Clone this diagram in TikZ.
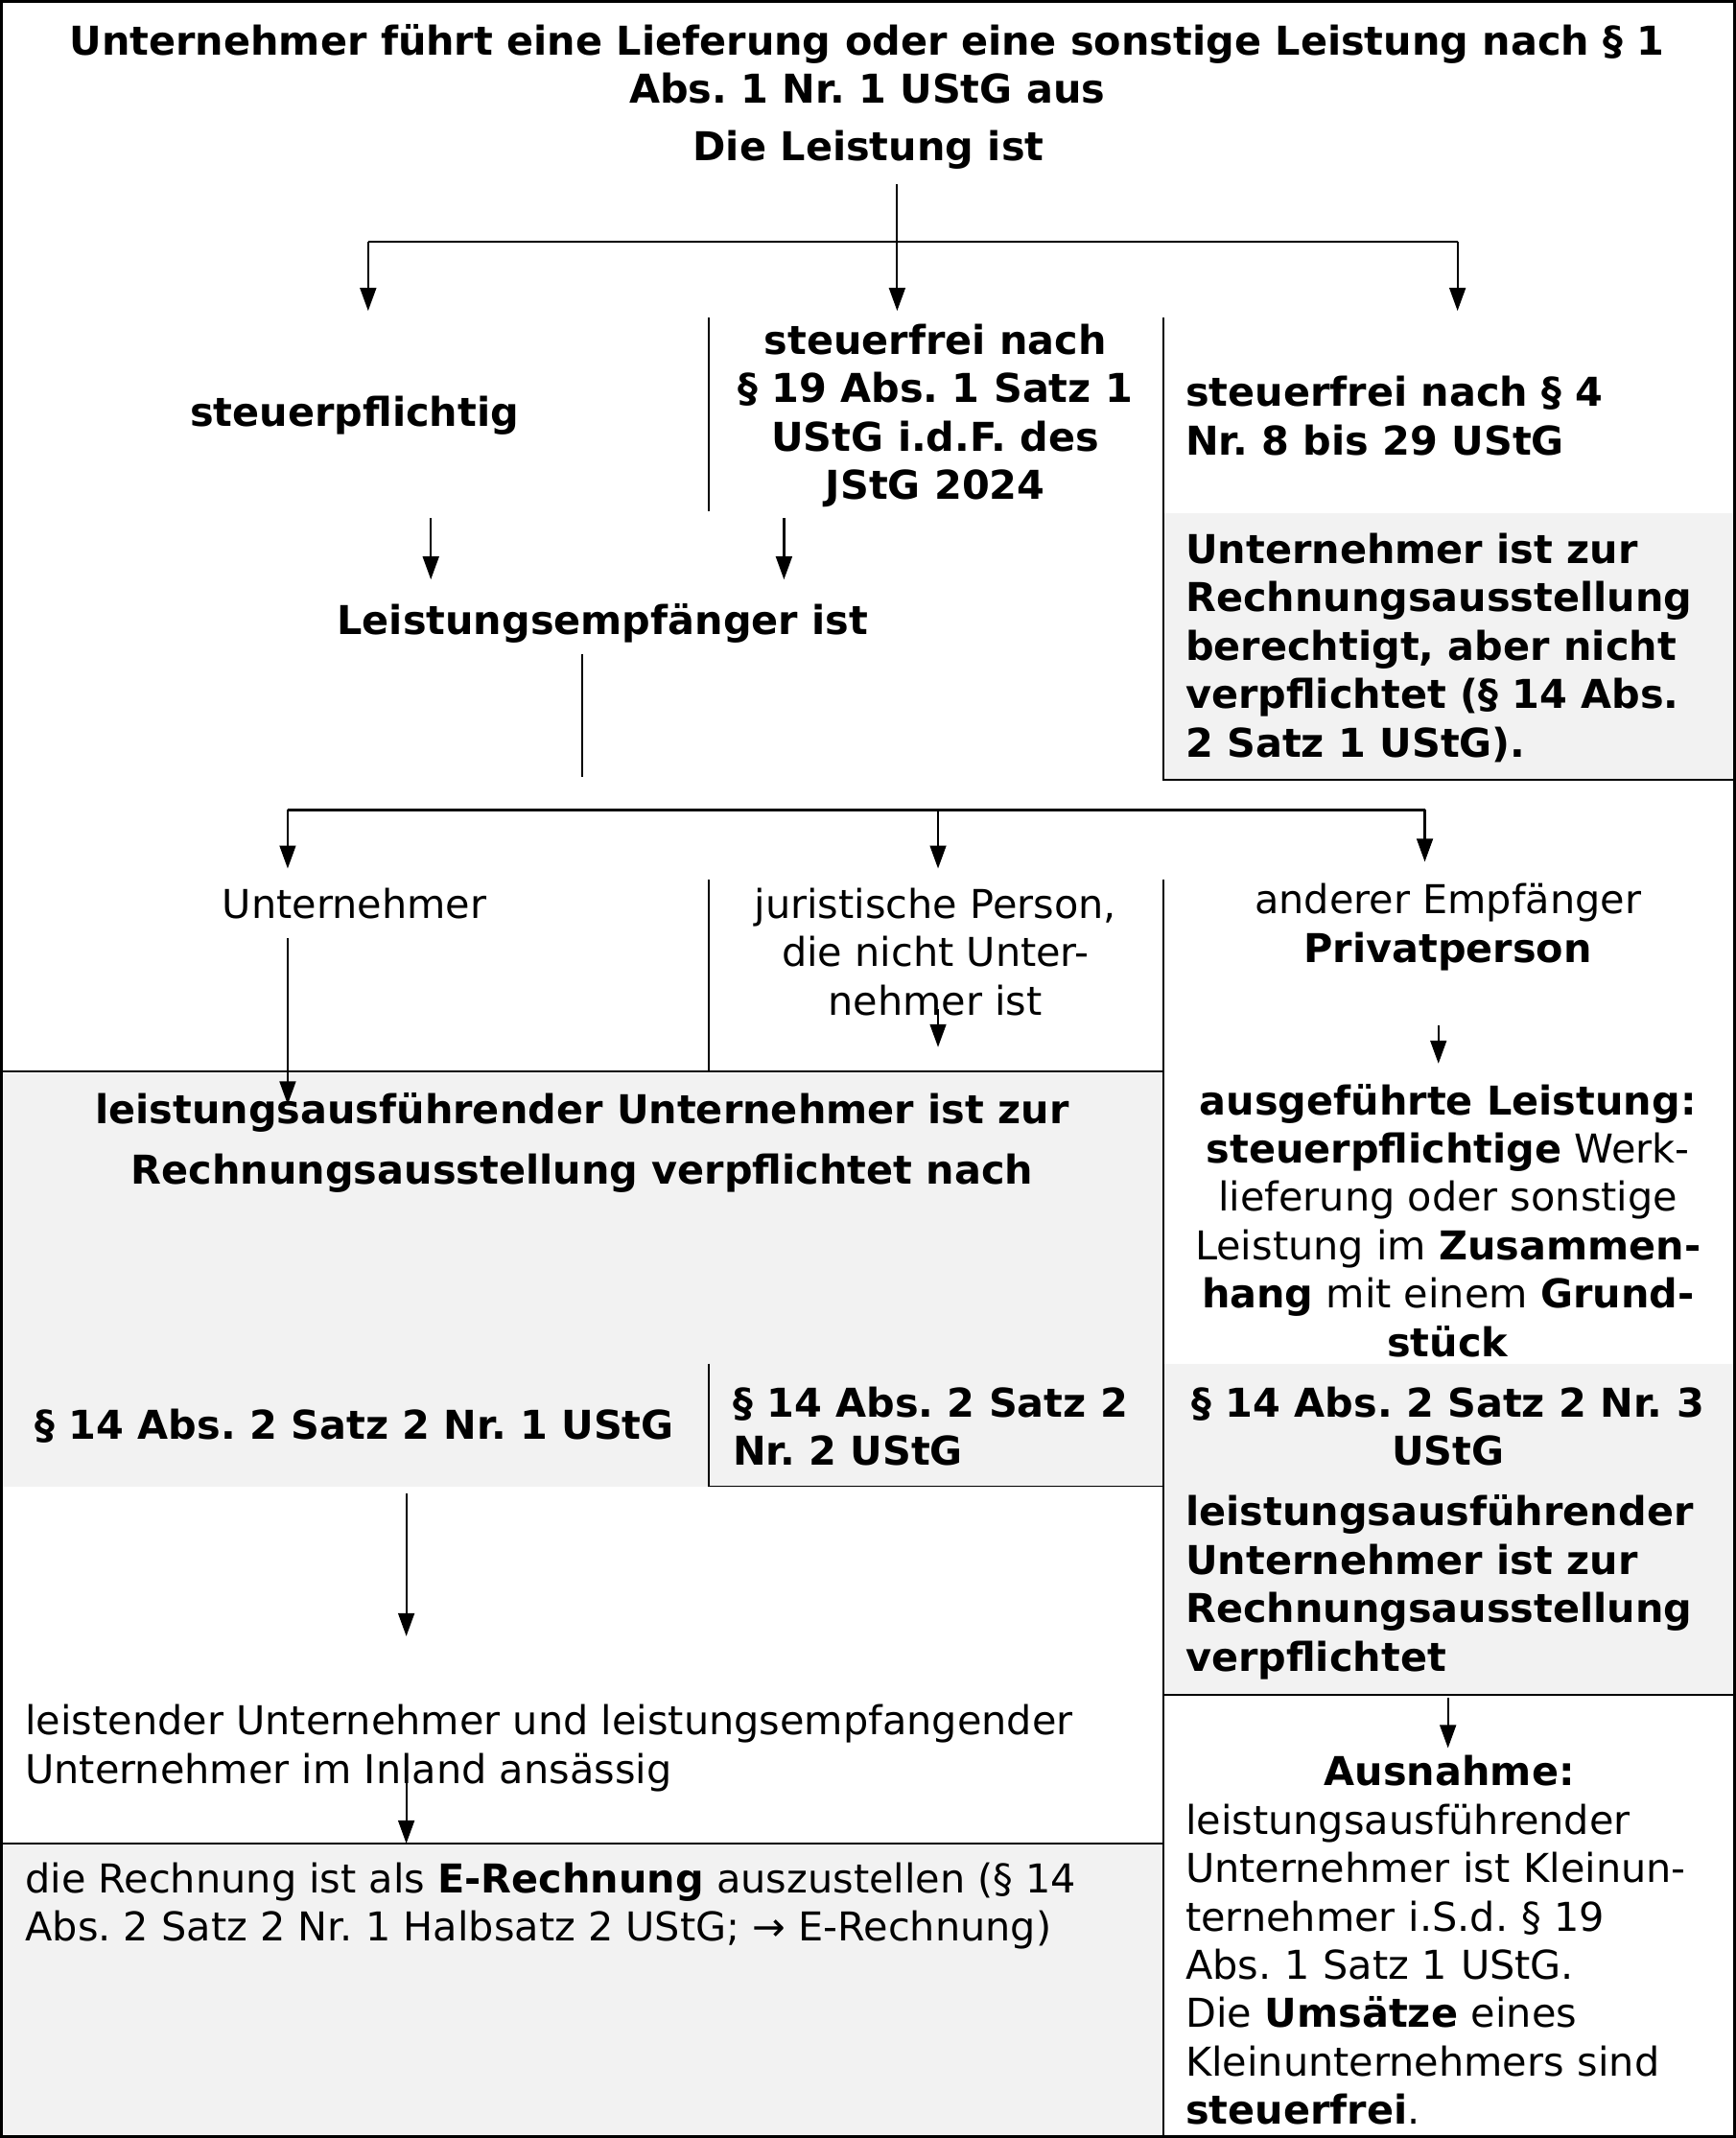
\documentclass[tikz,border=0pt]{standalone}
\usepackage{fontspec}
\setmainfont{DejaVu Sans}
\usetikzlibrary{arrows.meta}
\definecolor{boxgray}{HTML}{F2F2F2}
\frenchspacing
\begin{document}
\frenchspacing
\begin{tikzpicture}[x=0.3553pt,y=-0.3553pt,
  txt/.style={inner sep=0pt, font=\fontsize{10.35}{12.6}\selectfont},
  bt/.style={inner sep=0pt, font=\fontsize{10.35}{12.6}\selectfont\bfseries},
  conn/.style={line width=0.55pt},
  arr/.style={conn,-{Triangle[length=6pt,width=4.2pt]}},
  sep/.style={line width=0.45pt}]
\useasboundingbox (0,0) rectangle (1273,1568);
% gray areas
\fill[boxgray] (853,376) rectangle (1272,572);
\fill[boxgray] (0,787) rectangle (853,1090);
\fill[boxgray] (853,1000) rectangle (1272,1243);
\fill[boxgray] (0,1352) rectangle (853,1567);
% outer border
\draw[line width=0.7pt] (1,1) rectangle (1272,1567);
% separators
\draw[sep] (520,233) -- (520,375);
\draw[sep] (853,233) -- (853,572) -- (1272,572);
\draw[sep] (520,645) -- (520,786);
\draw[sep] (0,786) -- (853,786);
\draw[sep] (853,645) -- (853,1567);
\draw[sep] (520,1000) -- (520,1090) -- (853,1090);
\draw[sep] (853,1243) -- (1272,1243);
\draw[sep] (0,1352) -- (853,1352);
% texts
\node[bt, align=center] (title) at (636,47) {Unternehmer führt eine Lieferung oder eine sonstige Leistung nach § 1\\Abs. 1 Nr. 1 UStG aus};
\node[bt] (leistung) at (637,110) {Die Leistung ist};
\node[bt] (stpfl) at (260,305) {steuerpflichtig};
\node[bt, align=center] (stfrei19) at (686,305) {steuerfrei nach\\§ 19 Abs. 1 Satz 1\\UStG i.d.F. des\\JStG 2024};
\node[bt, align=left, anchor=west] (stfrei4) at (869,305) {steuerfrei nach § 4\\Nr. 8 bis 29 UStG};
\node[bt, align=left, anchor=west] (berecht) at (869,475) {Unternehmer ist zur\\Rechnungsausstellung\\berechtigt, aber nicht\\verpflichtet (§ 14 Abs.\\2 Satz 1 UStG).};
\node[bt] (empf) at (442,457) {Leistungsempfänger ist};
\node[txt] (untern) at (260,663) {Unternehmer};
\node[txt, align=center] (jur) at (686,698) {juristische Person,\\die nicht Unter-\\nehmer ist};
\node[txt, align=center] (anderer) at (1062,680) {anderer Empfänger\\\textbf{Privatperson}};
\node[txt, align=center] (ausgef) at (1062,895) {\textbf{ausgeführte Leistung:}\\\textbf{steuerpflichtige} Werk-\\lieferung oder sonstige\\Leistung im \textbf{Zusammen-}\\\textbf{hang} mit einem \textbf{Grund-}\\\textbf{stück}};
\node[bt, align=center] (verpfnach) at (427,838) {leistungsausführender Unternehmer ist zur\\[3pt]Rechnungsausstellung verpflichtet nach};
\node[bt] (p1) at (260,1046) {§ 14 Abs. 2 Satz 2 Nr. 1 UStG};
\node[bt, align=left, anchor=west] (p2) at (537,1046) {§ 14 Abs. 2 Satz 2\\Nr. 2 UStG};
\node[bt, align=center] (p3) at (1062,1046) {§ 14 Abs. 2 Satz 2 Nr. 3\\UStG};
\node[bt, align=left, anchor=west] (verpfl) at (869,1164) {leistungsausführender\\Unternehmer ist zur\\Rechnungsausstellung\\verpflichtet};
\node[txt, align=left, anchor=west] (inland) at (18,1282) {leistender Unternehmer und leistungsempfangender\\Unternehmer im Inland ansässig};
\node[txt, align=left, anchor=west] (erech) at (18,1398) {die Rechnung ist als \textbf{E-Rechnung} auszustellen (§ 14\\Abs. 2 Satz 2 Nr. 1 Halbsatz 2 UStG; → E-Rechnung)};
\node[txt, align=left, anchor=north west, text width=137.5pt] (ausn) at (869,1287) {\makebox[\linewidth][c]{\textbf{Ausnahme:}}\\leistungsausführender\\Unternehmer ist Kleinun-\\ternehmer i.S.d. § 19\\Abs. 1 Satz 1 UStG.\\Die \textbf{Umsätze} eines\\Kleinunternehmers sind\\\textbf{steuerfrei}.};
% connector coordinates
\coordinate (a0) at (658,135);
\coordinate (a1) at (658,228);
\coordinate (hl) at (270,177);
\coordinate (hr) at (1069,177);
\coordinate (al) at (270,228);
\coordinate (ar) at (1069,228);
\coordinate (b1s) at (316,380); \coordinate (b1e) at (316,425);
\coordinate (b2s) at (575,380); \coordinate (b2e) at (575,425);
\coordinate (c0) at (427,480); \coordinate (c1) at (427,570);
\coordinate (dl) at (211,594); \coordinate (dr) at (1045,594); \coordinate (dm) at (688,594);
\coordinate (dle) at (211,637); \coordinate (dme) at (688,637); \coordinate (dre) at (1045,632);
\coordinate (e0) at (211,688); \coordinate (e1) at (211,810);
\coordinate (f0) at (688,740); \coordinate (f1) at (688,768);
\coordinate (g0) at (1055,752); \coordinate (g1) at (1055,780);
\coordinate (h0) at (298,1095); \coordinate (h1) at (298,1200);
\coordinate (i0) at (298,1300); \coordinate (i1) at (298,1352);
\coordinate (j0) at (1062,1245); \coordinate (j1) at (1062,1282);
% connectors
\draw[arr] (a0) -- (a1);
\draw[arr] (hl) -- (al);
\draw[conn] (hl) -- (hr);
\draw[arr] (hr) -- (ar);
\draw[arr] (b1s) -- (b1e);
\draw[arr] (b2s) -- (b2e);
\draw[conn] (c0) -- (c1);
\draw[conn] (dl) -- (dr);
\draw[arr] (dl) -- (dle);
\draw[arr] (dm) -- (dme);
\draw[arr] (dr) -- (dre);
\draw[arr] (e0) -- (e1);
\draw[arr] (f0) -- (f1);
\draw[arr] (g0) -- (g1);
\draw[arr] (h0) -- (h1);
\draw[arr] (i0) -- (i1);
\draw[arr] (j0) -- (j1);
\end{tikzpicture}
\end{document}
